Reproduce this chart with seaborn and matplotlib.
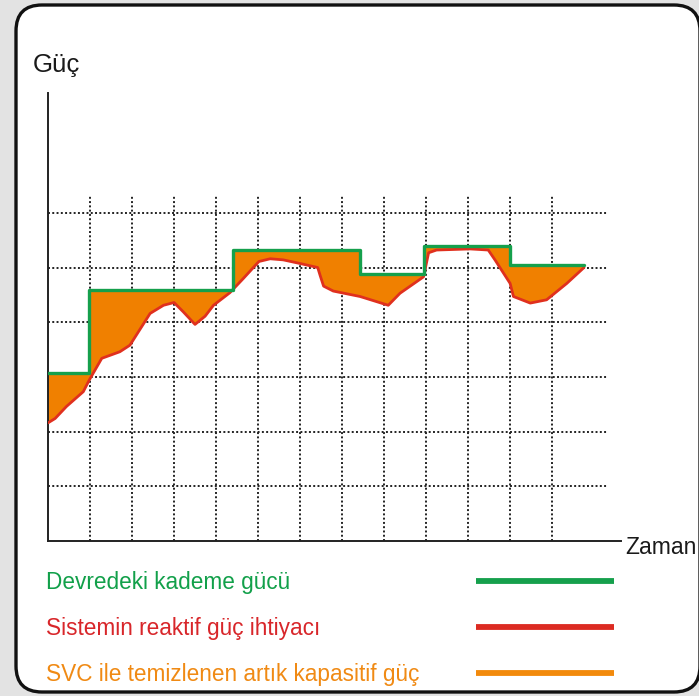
import matplotlib.pyplot as plt
import matplotlib.patches as mpatches
import matplotlib.lines as mlines
import matplotlib.transforms as mtrans
import seaborn as sns
import pandas as pd

# data (x in grid units of time, y in grid units of power)
step_x = [0, 0.97, 4.40, 7.43, 8.94, 11.0, 12.76]
step_y = [3.08, 4.58, 5.32, 4.88, 5.39, 5.05, 5.05]

need_x = [0.0, 0.17, 0.44, 0.84, 0.98, 1.28, 1.71, 1.95, 2.43, 2.75,
          3.0, 3.22, 3.50, 3.74, 3.94, 4.33, 4.65, 5.02, 5.29, 5.60,
          6.02, 6.42, 6.48, 6.56, 6.79, 7.43, 8.10, 8.38, 8.94, 9.06,
          9.25, 10.05, 10.48, 10.64, 11.0, 11.08, 11.48, 11.87, 12.35, 12.76]
need_y = [2.16, 2.24, 2.46, 2.73, 2.94, 3.34, 3.46, 3.58, 4.16, 4.31,
          4.36, 4.19, 3.96, 4.11, 4.31, 4.54, 4.80, 5.11, 5.16, 5.14,
          5.07, 5.0, 4.85, 4.66, 4.57, 4.47, 4.31, 4.53, 4.83, 5.27,
          5.32, 5.34, 5.32, 5.14, 4.71, 4.47, 4.35, 4.41, 4.71, 5.0]

grid_x = list(range(1, 13))
grid_y = list(range(1, 7))

legend_labels = ['Devredeki kademe gücü',
                 'Sistemin reaktif güç ihtiyacı',
                 'SVC ile temizlenen artık kapasitif güç']
green = '#15a04c'
red = '#e0301e'
orange = '#f28a0c'
fill_col = '#f08000'

sns.set_style('white')
plt.rcParams['font.family'] = ['Liberation Sans', 'DejaVu Sans']

W, H = 699, 696
fig = plt.figure(figsize=(W / 100, H / 100), dpi=100, facecolor='#e3e3e3')

# white rounded panel
ident = mtrans.IdentityTransform()
panel = mpatches.FancyBboxPatch((16, 4), 684, 687,
                                boxstyle='round,pad=0,rounding_size=26',
                                fc='white', ec='#111111', lw=2.4,
                                transform=ident, zorder=0)
fig.add_artist(panel)

ax = fig.add_axes([48 / W, 155 / H, 573 / W, 448.5 / H])
ax.set_facecolor('none')
ax.set_xlim(0, 13.64)
ax.set_ylim(0, 8.2)

# dotted grid
ax.vlines(grid_x, 0, 6.33, colors='#222222', lw=1.4, linestyles=(0, (1, 1.2)), zorder=1)
ax.hlines(grid_y, 0, 13.3, colors='#222222', lw=1.4, linestyles=(0, (1, 1.2)), zorder=1)

# orange area between step line and demand curve
px, py = [], []
for i in range(len(step_x) - 1):
    px += [step_x[i], step_x[i + 1]]
    py += [step_y[i], step_y[i]]
px += need_x[::-1]
py += need_y[::-1]
ax.fill(px, py, color=fill_col, lw=0, zorder=2)

need = pd.DataFrame({'t': need_x, 'q': need_y})
sns.lineplot(data=need, x='t', y='q', sort=False, estimator=None,
             color=red, lw=2.0, ax=ax, zorder=3)
steps = pd.DataFrame({'t': step_x, 'q': step_y})
sns.lineplot(data=steps, x='t', y='q', sort=False, estimator=None,
             drawstyle='steps-post', color=green, lw=2.4, ax=ax, zorder=4)

for s in ['top', 'right']:
    ax.spines[s].set_visible(False)
for s in ['left', 'bottom']:
    ax.spines[s].set_color('#222222')
    ax.spines[s].set_linewidth(1.4)
ax.set_xticks([])
ax.set_yticks([])
ax.set_xlabel('')
ax.set_ylabel('')

fig.text(33 / W, 1 - 72 / H, 'Güç', fontsize=18.5, color='#1a1a1a', va='baseline')
fig.text(625 / W, 1 - 554 / H, 'Zaman', fontsize=16.5, color='#1a1a1a', va='baseline')

line_y = [581, 627, 673]
cols_txt = ['#12a04a', '#d8262a', '#f08a14']
cols_line = [green, '#dc2b22', orange]
for lab, yy, ct, cl in zip(legend_labels, line_y, cols_txt, cols_line):
    fig.text(46 / W, 1 - (yy + 8) / H, lab, fontsize=16.3, color=ct, va='baseline')
    fig.add_artist(mlines.Line2D([476 / W, 614 / W], [1 - yy / H, 1 - yy / H],
                                 color=cl, lw=4.2, solid_capstyle='butt'))

fig.savefig('out.png', dpi=100, facecolor=fig.get_facecolor())
